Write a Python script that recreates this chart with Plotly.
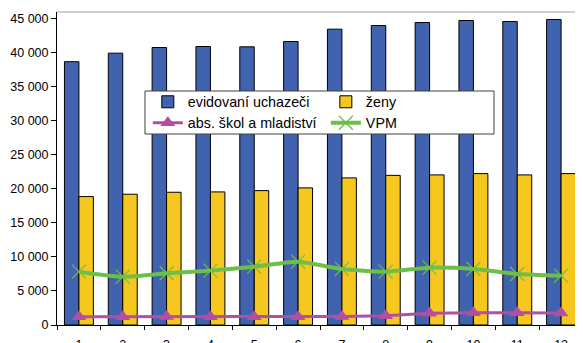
import plotly.graph_objects as go

months = ["1", "2", "3", "4", "5", "6", "7", "8", "9", "10", "11", "12"]
evidovani = [38700, 39950, 40780, 40930, 40880, 41660, 43480, 44010, 44450, 44750, 44600, 44900]
zeny = [18870, 19220, 19510, 19560, 19750, 20150, 21620, 21990, 22060, 22250, 22060, 22250]
absolventi = [1220, 1230, 1240, 1230, 1220, 1210, 1260, 1370, 1720, 1810, 1800, 1760]
vpm = [7840, 7100, 7600, 7990, 8570, 9310, 8240, 7840, 8430, 8240, 7500, 7250]
y_ticks = [0, 5000, 10000, 15000, 20000, 25000, 30000, 35000, 40000, 45000]

FONT = "Liberation Sans, Arial, sans-serif"

fig = go.Figure()
fig.add_trace(go.Bar(x=months, y=evidovani, name="evidovaní uchazeči", legend="legend",
                     marker=dict(color="#4163AF", line=dict(color="#000000", width=1))))
fig.add_trace(go.Bar(x=months, y=zeny, name="ženy", legend="legend",
                     marker=dict(color="#F6C71E", line=dict(color="#000000", width=1))))
fig.add_trace(go.Scatter(x=months, y=absolventi, name="abs. škol a mladiství", mode="lines+markers",
                         legend="legend2",
                         line=dict(color="#B24FA3", width=3),
                         marker=dict(symbol="triangle-up", size=13, color="#B24FA3")))
fig.add_trace(go.Scatter(x=months, y=vpm, name="VPM", mode="lines+markers", legend="legend2",
                         line=dict(color="#6DBF4A", width=4, shape="spline", smoothing=0.6),
                         marker=dict(symbol="x-thin", size=14, line=dict(color="#6DBF4A", width=1.2))))

leg_common = dict(orientation="h", xanchor="left", yanchor="middle",
                  bgcolor="rgba(0,0,0,0)", borderwidth=0,
                  entrywidth=133, entrywidthmode="pixels", traceorder="normal",
                  font=dict(family=FONT, size=14.3), itemwidth=30)

fig.update_layout(
    width=583, height=343,
    margin=dict(l=49, r=8, t=4, b=26, autoexpand=False),
    paper_bgcolor="white", plot_bgcolor="white",
    font=dict(family=FONT, size=12.5, color="#000000"),
    separators=", ",
    barmode="group", bargap=0.34, bargroupgap=0,
    showlegend=True,
    legend=dict(x=0.1727, y=0.7125, **leg_common),
    legend2=dict(x=0.1727, y=0.6454, **leg_common),
    xaxis=dict(type="category", range=[-0.5, 11.5], showline=True, linecolor="#000000", linewidth=1,
               ticks="outside", ticklen=4, tickcolor="#000000", tickson="boundaries",
               ticklabelstandoff=8,
               showgrid=False, tickfont=dict(size=12.5)),
    yaxis=dict(range=[0, 46000], tickvals=y_ticks, tickformat=",d",
               showline=True, linecolor="#000000", linewidth=1,
               ticks="outside", ticklen=5, tickcolor="#000000",
               showgrid=False, zeroline=False, tickfont=dict(size=12.5)),
    shapes=[
        dict(type="line", xref="paper", yref="paper", x0=0, x1=1, y0=1, y1=1,
             line=dict(color="#A0A0A0", width=1)),
        dict(type="rect", xref="paper", yref="paper", x0=0.1673, x1=0.8308, y0=0.6102, y1=0.7476,
             layer="above", fillcolor="white", line=dict(color="#404040", width=1)),
    ],
)

fig.write_html("out.html")
